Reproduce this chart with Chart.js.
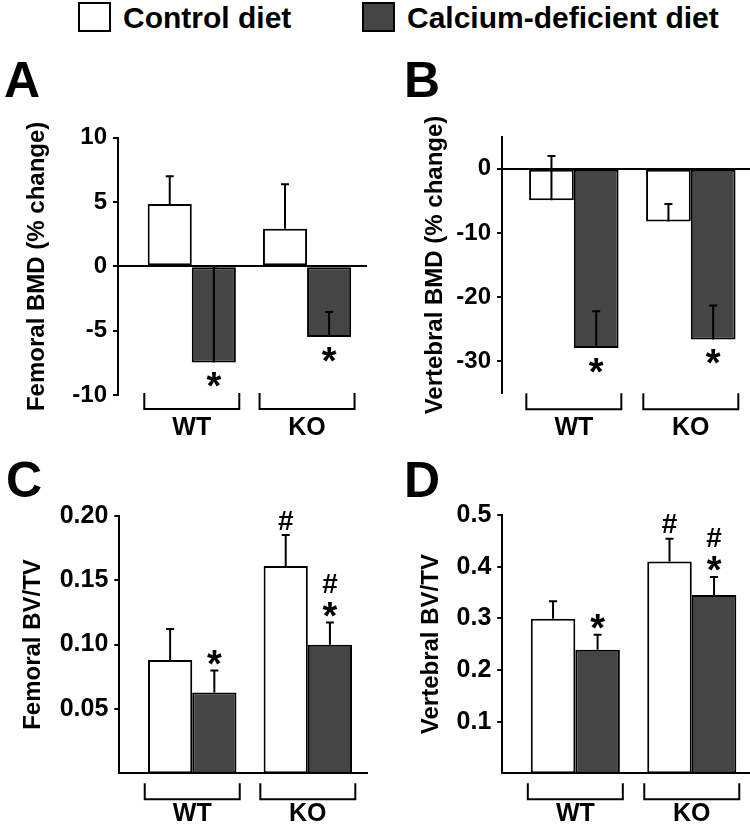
<!DOCTYPE html>
<html>
<head>
<meta charset="utf-8">
<script src="https://cdn.jsdelivr.net/npm/chart.js@4.4.1/dist/chart.umd.min.js"></script>
<style>
  html, body { margin: 0; padding: 0; background: #fff; }
  body {
    width: 750px; height: 825px; position: relative; overflow: hidden;
    font-family: "Liberation Sans", Arial, sans-serif; font-weight: bold; color: #000;
  }
  canvas { position: absolute; }
  .letter { position: absolute; font-size: 50px; line-height: 50px; }
  .key { position: absolute; top: 2px; width: 33px; height: 30px; border: 2px solid #000; box-sizing: border-box; }
  .key-label { position: absolute; top: 3px; font-size: 30px; line-height: 30px; white-space: nowrap; }
</style>
</head>
<body>
<div id="legend"></div>
<div class="letter" style="left:4px;top:55px">A</div>
<div class="letter" style="left:404px;top:55px">B</div>
<div class="letter" style="left:6px;top:455px">C</div>
<div class="letter" style="left:404px;top:455px">D</div>
<canvas id="chartA" width="375" height="340" style="left:0;top:100px"></canvas>
<canvas id="chartB" width="375" height="340" style="left:375px;top:100px"></canvas>
<canvas id="chartC" width="375" height="385" style="left:0;top:440px"></canvas>
<canvas id="chartD" width="375" height="385" style="left:375px;top:440px"></canvas>
<script>
const groups = ['WT', 'KO'];
const seriesNames = ['Control diet', 'Calcium-deficient diet'];
const seriesColors = ['#ffffff', '#454545'];

// A - femoral BMD, % change
const femBmdCtrl = [4.85, 2.93];
const femBmdCtrlErr = [2.15, 3.45];
const femBmdCa = [-7.47, -5.5];
const femBmdCaErr = [7.47, 1.95];
const femBmdTicks = [-10, -5, 0, 5, 10];

// B - vertebral BMD, % change
const vertBmdCtrl = [-4.9, -8.2];
const vertBmdCtrlErr = [6.9, 2.7];
const vertBmdCa = [-27.95, -26.6];
const vertBmdCaErr = [5.75, 5.3];
const vertBmdTicks = [-30, -20, -10, 0];

// C - femoral BV/TV
const femBvCtrl = [0.088, 0.161];
const femBvCtrlErr = [0.024, 0.024];
const femBvCa = [0.0627, 0.0998];
const femBvCaErr = [0.0171, 0.0172];
const femBvTicks = [0.05, 0.10, 0.15, 0.20];

// D - vertebral BV/TV
const vertBvCtrl = [0.299, 0.41];
const vertBvCtrlErr = [0.034, 0.044];
const vertBvCa = [0.239, 0.345];
const vertBvCaErr = [0.029, 0.035];
const vertBvTicks = [0.1, 0.2, 0.3, 0.4, 0.5];

// significance marks per series / group, listed bottom-up
const marksBmd = [[[], []], [['*'], ['*']]];
const marksBv = [[[], ['#']], [['*'], ['*', '#']]];

const FONT = '"Liberation Sans", Arial, sans-serif';
Chart.defaults.font.family = FONT;
Chart.defaults.color = '#000';

// legend (html)
document.getElementById('legend').innerHTML = seriesNames.map((name, k) => {
  const left = [78, 362][k];
  return `<div class="key" style="left:${left}px;background:${seriesColors[k]}"></div>` +
         `<div class="key-label" style="left:${left + 45}px">${name}</div>`;
}).join('');

const panelDecor = {
  id: 'panelDecor',
  afterDatasetsDraw(chart, args, opts) {
    const { ctx, chartArea } = chart;
    const x = chart.scales.x, y = chart.scales.y;
    ctx.save();
    ctx.strokeStyle = '#000';
    ctx.fillStyle = '#000';
    ctx.lineWidth = 2;
    ctx.textAlign = 'center';
    ctx.textBaseline = 'alphabetic';

    chart.data.datasets.forEach((ds, di) => {
      const meta = chart.getDatasetMeta(di);
      meta.data.forEach((bar, i) => {
        const v = ds.data[i].y;
        const e = opts.errors[di][i];
        const y0 = y.getPixelForValue(v);
        const y1 = y.getPixelForValue(v + e);
        ctx.beginPath();
        ctx.moveTo(bar.x, y0);
        ctx.lineTo(bar.x, y1);
        ctx.moveTo(bar.x - 4, y1);
        ctx.lineTo(bar.x + 4, y1);
        ctx.stroke();

        // * and # marks
        const marks = opts.marks[di][i];
        let cy = v < 0 ? y0 + 17 : null;
        marks.forEach((m, k) => {
          if (cy === null) cy = y1 - (m === '#' ? 15 : 13);
          else if (k > 0) cy -= 26;
          ctx.font = m === '*' ? `bold 38px ${FONT}` : `bold 28px ${FONT}`;
          const tm = ctx.measureText(m);
          const asc = tm.actualBoundingBoxAscent, desc = tm.actualBoundingBoxDescent;
          ctx.fillText(m, bar.x, cy + (asc - desc) / 2);
        });
      });
    });

    // group brackets and labels
    const bt = chartArea.bottom + opts.bracketTop;
    ctx.font = `bold 25px ${FONT}`;
    groups.forEach((g, i) => {
      const cx = x.getPixelForValue(i);
      ctx.beginPath();
      ctx.moveTo(cx - 47.5, bt);
      ctx.lineTo(cx - 47.5, bt + 16);
      ctx.lineTo(cx + 47.5, bt + 16);
      ctx.lineTo(cx + 47.5, bt);
      ctx.stroke();
      ctx.fillText(g, cx, chartArea.bottom + opts.labelOffset);
    });
    ctx.restore();
  }
};

function makePanel(id, p) {
  new Chart(document.getElementById(id), {
    type: 'bar',
    data: {
      datasets: [p.ctrl, p.ca].map((vals, k) => ({
        label: seriesNames[k],
        data: vals.map((v, i) => ({ x: i, y: v })),
        backgroundColor: seriesColors[k],
        borderColor: '#000',
        borderWidth: 2,
        borderSkipped: false,
        categoryPercentage: 0.765,
        barPercentage: 1
      }))
    },
    options: {
      responsive: false,
      animation: false,
      layout: { padding: p.pad },
      plugins: {
        legend: { display: false },
        tooltip: { enabled: false },
        panelDecor: {
          errors: [p.ctrlErr, p.caErr],
          marks: p.marks,
          bracketTop: p.bracketTop,
          labelOffset: p.labelOffset
        }
      },
      scales: {
        x: {
          type: 'linear',
          offset: false,
          min: p.xMin,
          max: p.xMax,
          ticks: { display: false },
          grid: { display: false, drawTicks: false, offset: false },
          border: { display: p.xLine, color: '#000', width: 2 },
          afterBuildTicks: s => { s.ticks = groups.map((g, i) => ({ value: i })); },
          afterFit: s => { s.height = 0; }
        },
        y: {
          min: p.yMin,
          max: p.yMax,
          afterBuildTicks: s => { s.ticks = p.ticks.map(v => ({ value: v })); },
          afterFit: s => { s.width = p.yWidth; s.paddingTop = 0; s.paddingBottom = 0; },
          ticks: {
            callback: p.fmt,
            font: { size: p.tickSize, weight: 'bold' },
            color: '#000',
            padding: 6
          },
          grid: {
            color: c => (p.zeroLine && c.tick && c.tick.value === 0) ? '#000' : 'rgba(0,0,0,0)',
            lineWidth: 2,
            tickColor: '#000',
            tickWidth: 2,
            tickLength: 5
          },
          border: { display: true, color: '#000', width: 2 },
          title: {
            display: true,
            text: p.title,
            font: { size: 24, weight: 'bold' },
            color: '#000',
            padding: { top: p.titlePad, bottom: 0 }
          }
        }
      }
    },
    plugins: [panelDecor]
  });
}

makePanel('chartA', {
  ctrl: femBmdCtrl, ctrlErr: femBmdCtrlErr, ca: femBmdCa, caErr: femBmdCaErr,
  ticks: femBmdTicks, yMin: -10, yMax: 10, fmt: v => String(v), tickSize: 24,
  title: 'Femoral BMD (% change)', titlePad: 22.6, zeroLine: true, xLine: false,
  marks: marksBmd, xMin: -0.64, xMax: 1.52, yWidth: 118,
  pad: { left: 0, right: 8, top: 37.7, bottom: 45 },
  bracketTop: -2, labelOffset: 40
});

makePanel('chartB', {
  ctrl: vertBmdCtrl, ctrlErr: vertBmdCtrlErr, ca: vertBmdCa, caErr: vertBmdCaErr,
  ticks: vertBmdTicks, yMin: -35, yMax: 5, fmt: v => String(v), tickSize: 24,
  title: 'Vertebral BMD (% change)', titlePad: 45.6, zeroLine: true, xLine: false,
  marks: marksBmd, xMin: -0.614, xMax: 1.506, yWidth: 127,
  pad: { left: 0, right: 0, top: 36.7, bottom: 46.7 },
  bracketTop: 0, labelOffset: 42
});

makePanel('chartC', {
  ctrl: femBvCtrl, ctrlErr: femBvCtrlErr, ca: femBvCa, caErr: femBvCaErr,
  ticks: femBvTicks, yMin: 0, yMax: 0.2, fmt: v => Number(v).toFixed(2), tickSize: 25,
  title: 'Femoral BV/TV', titlePad: 18.6, zeroLine: false, xLine: true,
  marks: marksBv, xMin: -0.631, xMax: 1.512, yWidth: 119.3,
  pad: { left: 0, right: 8, top: 75.7, bottom: 51.7 },
  bracketTop: 10, labelOffset: 48
});

makePanel('chartD', {
  ctrl: vertBvCtrl, ctrlErr: vertBvCtrlErr, ca: vertBvCa, caErr: vertBvCaErr,
  ticks: vertBvTicks, yMin: 0, yMax: 0.5, fmt: v => Number(v).toFixed(1), tickSize: 25,
  title: 'Vertebral BV/TV', titlePad: 41.6, zeroLine: false, xLine: true,
  marks: marksBv, xMin: -0.627, xMax: 1.5, yWidth: 127.3,
  pad: { left: 0, right: 0, top: 75, bottom: 51.7 },
  bracketTop: 10, labelOffset: 48
});
</script>
</body>
</html>
